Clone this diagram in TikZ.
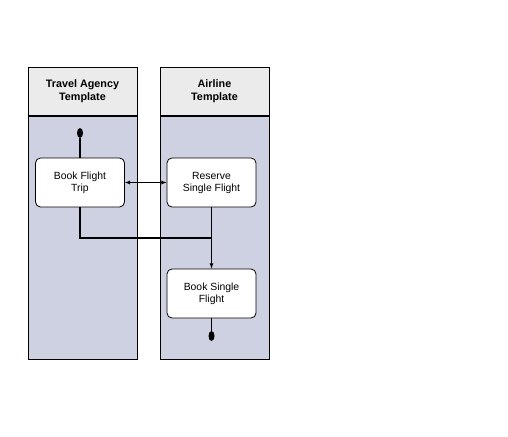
\documentclass[tikz,border=0pt]{standalone}
\usepackage{fontspec}
\setmainfont{Liberation Sans}
\usepackage{tikz}
\usetikzlibrary{positioning,shapes.geometric}
\definecolor{headgray}{RGB}{235,235,235}
\definecolor{lanegray}{RGB}{206,209,225}
\tikzstyle{lanehead}=[draw,%
                      fill=headgray,%
                      rectangle,%
                      inner sep=0pt,%
                      minimum width=109pt,%
                      minimum height=49pt,%
                      align=center,%
                      font=\fontsize{10.8}{13}\selectfont\bfseries]
\tikzstyle{lanebody}=[draw,fill=lanegray,rectangle,inner sep=0pt,minimum width=109pt,minimum height=243pt]
\tikzstyle{activity}=[draw,fill=white,rectangle,rounded corners=5pt,inner sep=0pt,minimum width=89pt,minimum height=49pt,align=center,font=\fontsize{10.4}{12}\selectfont]
\tikzstyle{blob}=[fill=black,ellipse,inner sep=0pt,minimum width=6pt,minimum height=10pt]
\tikzstyle{heavy}=[line width=2pt]

\begin{document}
\begin{tikzpicture}[x=1pt,y=-1pt,line width=0.8pt]
            \useasboundingbox (0,0) rectangle (508,436);
            \node[lanehead] (travelhead) at (82.5,91.5) {Travel Agency\\Template};
            \node[lanehead] (airlinehead) at (214.5,91.5) {Airline\\Template};
            \node[lanebody][below=0pt of travelhead] (travelbody) {};
            \node[lanebody][below=0pt of airlinehead] (airlinebody) {};
            \draw [heavy] (travelhead.south west) -- (travelhead.south east);
            \draw [heavy] (airlinehead.south west) -- (airlinehead.south east);
            \node[activity] (trip) at (80,182.5) {Book Flight\\Trip};
            \node[activity] (reserve) at (211.5,182.5) {Reserve\\Single Flight};
            \node[activity] (single) at (211.5,293.5) {Book Single\\Flight};
            \node[blob] (start) at (80,133) {};
            \node[blob] (stop) at (211.5,336) {};
            \coordinate (join) at (211.5,237.5);
            \draw [heavy] (start) -- (trip.north);
            \draw [latex-latex] (trip.east) -- (reserve.west);
            \draw [heavy] (trip.south) |- (join);
            \draw [-latex] (reserve.south) -- (single.north);
            \draw (single.south) -- (stop);
  \end{tikzpicture}
\end{document}
